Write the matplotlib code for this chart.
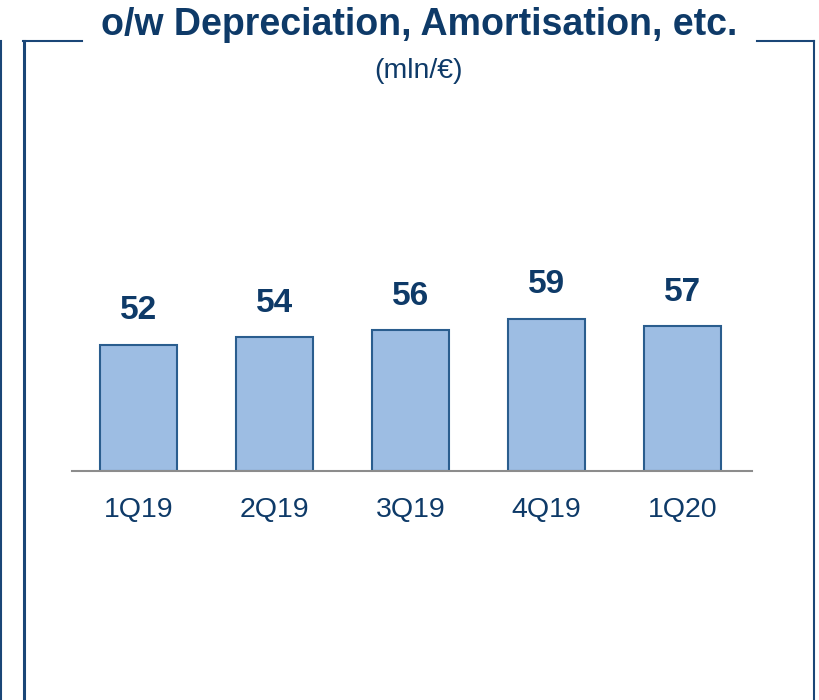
import matplotlib
matplotlib.use("Agg")
import matplotlib.pyplot as plt
from matplotlib.lines import Line2D

categories = ["1Q19", "2Q19", "3Q19", "4Q19", "1Q20"]
values = [52, 54, 56, 59, 57]
title = "o/w Depreciation, Amortisation, etc."
subtitle = "(mln/€)"

NAVY = "#0E3A68"
FRAME = "#1A4677"
BAR_FILL = "#9DBDE3"
BAR_EDGE = "#2A5D8E"

plt.rcParams['font.family'] = ['Liberation Sans', 'DejaVu Sans']

W, H = 819, 700
fig = plt.figure(figsize=(W / 100, H / 100), dpi=100)

def fx(px):
    return px / W

def fy(py):
    return 1 - py / H

# frame lines (figure coords)
lines = [
    ((0.8, 0.8), (41, 700), 1.5),
    ((24, 24), (41, 700), 2.2),
    ((23, 82), (41, 41), 1.5),
    ((757, 814), (41, 41), 1.5),
    ((813.5, 813.5), (41, 700), 1.5),
]
for xs, ys, lw in lines:
    fig.add_artist(Line2D([fx(x) for x in xs], [fy(y) for y in ys],
                          color=FRAME, lw=lw, transform=fig.transFigure))

fig.text(fx(419), fy(25), title, ha='center', va='center',
         fontsize=27, fontweight='bold', color=NAVY)
fig.text(fx(419), fy(71), subtitle, ha='center', va='center',
         fontsize=20.5, color=NAVY)

base_px = 471
top_px = 200
y0 = 18.0
scale = 3.71
ax = fig.add_axes([fx(72), fy(base_px), fx(752) - fx(72), (base_px - top_px) / H])
ax.set_ylim(y0, y0 + (base_px - top_px) / scale)
ax.set_xlim(-0.49, 4.51)

x = range(len(categories))
ax.bar(x, [v - y0 for v in values], bottom=y0, width=0.565, color=BAR_FILL,
       edgecolor=BAR_EDGE, linewidth=1.5, zorder=2)
for xi, v in zip(x, values):
    ax.annotate(str(v), (xi, v), xytext=(0, 34 * 0.72), textcoords='offset points',
                ha='center', va='center', fontsize=24, fontweight='bold', color=NAVY)

for s in ['top', 'right', 'left']:
    ax.spines[s].set_visible(False)
ax.spines['bottom'].set_color('#8C8C8C')
ax.spines['bottom'].set_linewidth(1.5)
ax.spines['bottom'].set_zorder(3)
ax.set_yticks([])
ax.set_xticks(list(x))
ax.set_xticklabels(categories, fontsize=20.5, color=NAVY)
ax.tick_params(axis='x', length=0, pad=18.5)
ax.patch.set_alpha(0)

fig.savefig("out.png", dpi=100)
